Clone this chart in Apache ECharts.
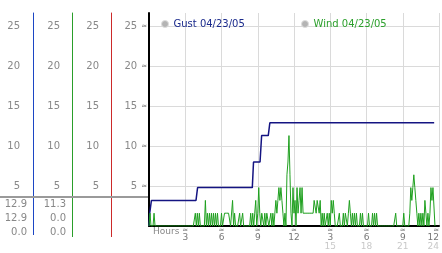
<!DOCTYPE html>
<html><head><meta charset="utf-8">
<script src="https://cdn.jsdelivr.net/npm/echarts@6/dist/echarts.min.js"></script>
<style>html,body{margin:0;padding:0;background:#fff}#c{width:442px;height:253px}</style>
</head><body><div id="c"></div>
<script>
const gustName = 'Gust 04/23/05';
const windName = 'Wind 04/23/05';
// gust: step-like trace, [hour] and [value]
const gustHours  = [0, 0.06, 0.2, 3.89, 4.02, 8.55, 8.65, 9.19, 9.32, 9.87, 10.0, 23.6];
const gustValues = [0, 1.6, 3.2, 3.2, 4.8, 4.8, 8.0, 8.0, 11.3, 11.3, 12.9, 12.9];
// wind: one reading every 5 minutes from 00:00
const windStepMinutes = 5;
const windValues = [
  0,1.6,0,0,0,1.6,0,0,0,0,0,0,
  0,0,0,0,0,0,0,0,0,0,0,0,
  0,0,0,0,0,0,0,0,0,0,0,0,
  0,0,0,0,0,0,0,0,0,0,1.6,0,
  1.6,0,1.6,0,0,0,0,0,3.2,0,1.6,0,
  1.6,0,1.6,0,1.6,0,1.6,0,1.6,0,0,0,
  1.6,0,0,1.6,1.6,1.6,1.6,1.6,1.6,0,0,3.2,
  0,1.6,0,0,0,0,1.6,0,0,1.6,0,0,
  0,0,0,0,0,1.6,0,1.6,0,1.6,3.2,0,
  1.6,4.8,1.6,0,1.6,1.6,0,1.6,0,1.6,1.6,0,
  0,1.6,0,1.6,0,1.6,3.2,1.6,3.2,4.8,3.2,4.8,
  3.2,1.6,0,1.6,0,6.4,8.0,11.3,6.4,1.6,0,4.8,
  1.6,3.2,0,4.8,1.6,3.2,4.8,1.6,4.8,1.6,1.6,1.6,
  1.6,1.6,1.6,1.6,1.6,1.6,1.6,1.6,3.2,3.2,1.6,3.2,
  3.2,1.6,3.2,0,1.6,0,1.6,0,0,1.6,0,1.6,
  0,3.2,1.6,3.2,1.6,0,0,0,0,1.6,0,0,
  0,1.6,0,1.6,1.6,0,1.6,3.2,1.6,0,1.6,0,
  1.6,0,1.6,0,0,0,1.6,0,1.6,0,0,0,
  0,0,1.6,0,0,0,1.6,0,1.6,0,1.6,0,
  0,0,0,0,0,0,0,0,0,0,0,0,
  0,0,0,0,0,1.6,0,0,0,0,0,0,
  0,1.6,0,0,0,0,0,1.6,4.8,3.2,4.8,6.4,
  4.8,3.2,1.6,0,1.6,0,1.6,0,1.6,0,3.2,1.6,
  0,1.6,0,1.6,4.8,3.2,4.8,4.8,0
];
const yTicks = [5, 10, 15, 20, 25];
const xTickHours = [3, 6, 9, 12, 15, 18, 21, 24];
const xTickUpper = ['3', '6', '9', '12', '3', '6', '9', '12'];
const xTickLower = ['', '', '', '', '15', '18', '21', '24'];
const gustStats = ['12.9', '12.9', '0.0'];
const windStats = ['11.3', '0.0', '0.0'];

const FONT = '"DejaVu Sans", Verdana, sans-serif';
const YMAX = 26.625;
const BLUE = '#1c46c4', GREEN = '#2a9e2a', RED = '#cc2a2a';
const gustData = gustHours.map((h, i) => [h, gustValues[i]]);
const windData = windValues.map((v, i) => [i * windStepMinutes / 60, v]);

function sideAxis(offset, color, margin) {
  return {
    type: 'value', position: 'left', offset: offset, min: 0, max: YMAX, interval: 5,
    axisLine: { show: true, onZero: false, lineStyle: { color: color, width: 1 } },
    axisTick: { show: false }, splitLine: { show: false },
    axisLabel: { margin: margin, color: '#888', fontFamily: FONT, fontSize: 10,
      formatter: v => yTicks.includes(v) ? String(v) : '' }
  };
}

const rowY = [204.7, 218.5, 232];
const graphics = [
  { type: 'line', shape: { x1: 0, y1: 197, x2: 148, y2: 197 }, style: { stroke: '#9a9a9a', lineWidth: 2 }, z: 10 },
  { type: 'line', shape: { x1: 33.5, y1: 225, x2: 33.5, y2: 235 }, style: { stroke: BLUE, lineWidth: 1 } },
  { type: 'line', shape: { x1: 72.5, y1: 225, x2: 72.5, y2: 237 }, style: { stroke: GREEN, lineWidth: 1 } },
  { type: 'line', shape: { x1: 111.5, y1: 225, x2: 111.5, y2: 237 }, style: { stroke: RED, lineWidth: 1 } },
  { type: 'text', style: { text: 'Hours', x: 153, y: 232, fill: '#888', font: '9px ' + FONT,
      textAlign: 'left', align: 'left', textVerticalAlign: 'middle', verticalAlign: 'middle' } }
];
rowY.forEach((y, i) => {
  graphics.push({ type: 'text', style: { text: gustStats[i], x: 27, y: y, fill: '#888', font: '10px ' + FONT,
    textAlign: 'right', align: 'right', textVerticalAlign: 'middle', verticalAlign: 'middle' } });
  graphics.push({ type: 'text', style: { text: windStats[i], x: 66, y: y, fill: '#888', font: '10px ' + FONT,
    textAlign: 'right', align: 'right', textVerticalAlign: 'middle', verticalAlign: 'middle' } });
});

const chart = echarts.init(document.getElementById('c'), null, { renderer: 'canvas' });
chart.setOption({
  animation: false,
  backgroundColor: '#fff',
  textStyle: { fontFamily: FONT },
  legend: [
    { left: 156, top: 14, icon: 'circle', itemWidth: 7, itemHeight: 7,
      textStyle: { fontFamily: FONT, fontSize: 10, color: '#1a2a8c' },
      data: [{ name: gustName, itemStyle: { color: '#b4b4b4', borderColor: '#dedede', borderWidth: 1 } }] },
    { left: 296, top: 14, icon: 'circle', itemWidth: 7, itemHeight: 7,
      textStyle: { fontFamily: FONT, fontSize: 10, color: '#2ca02c' },
      data: [{ name: windName, itemStyle: { color: '#b4b4b4', borderColor: '#dedede', borderWidth: 1 } }] }
  ],
  grid: { left: 149, right: 3, top: 13, bottom: 27, containLabel: false },
  xAxis: {
    type: 'value', min: 0, max: 24, interval: 3,
    axisLine: { show: true, onZero: false, lineStyle: { color: '#000', width: 2 } },
    axisTick: { show: false },
    splitLine: { show: true, lineStyle: { color: '#dadada', width: 1 } },
    axisLabel: {
      margin: 1, alignMaxLabel: 'right', fontFamily: FONT,
      formatter: v => {
        const i = xTickHours.indexOf(v);
        if (i < 0) return '';
        return '{m|≈}\n{u|' + xTickUpper[i] + '}\n{l|' + (xTickLower[i] || ' ') + '}';
      },
      rich: {
        m: { fontSize: 7, lineHeight: 6, color: '#777', fontFamily: FONT },
        u: { fontSize: 9, lineHeight: 9, color: '#777', fontFamily: FONT },
        l: { fontSize: 9, lineHeight: 10, color: '#c8c8c8', fontFamily: FONT }
      }
    }
  },
  yAxis: [
    {
      type: 'value', position: 'left', min: 0, max: YMAX, interval: 5,
      axisLine: { show: true, onZero: false, lineStyle: { color: '#000', width: 2 } },
      axisTick: { show: false },
      splitLine: { show: true, showMinLine: false, showMaxLine: false,
        lineStyle: { color: ['#dadada', '#dadada', '#dadada', '#dadada', '#dadada', '#dadada', 'rgba(0,0,0,0)'], width: 1 } },
      axisLabel: { margin: 2, fontFamily: FONT,
        formatter: v => yTicks.includes(v) ? '{n|' + v + '}{m|≈}' : '',
        rich: { n: { fontSize: 10, color: '#888', fontFamily: FONT },
                m: { fontSize: 7, color: '#777', padding: [0, 0, 0, 4], fontFamily: FONT } } }
    },
    sideAxis(38, RED, 12),
    sideAxis(77, GREEN, 12),
    sideAxis(116, BLUE, 13)
  ],
  series: [
    { name: gustName, type: 'line', data: gustData, yAxisIndex: 0, showSymbol: false, symbol: 'none',
      lineStyle: { color: '#141482', width: 1.5 }, itemStyle: { color: '#141482' }, z: 3 },
    { name: windName, type: 'line', data: windData, yAxisIndex: 0, showSymbol: false, symbol: 'none',
      lineStyle: { color: '#1fa01f', width: 1 }, itemStyle: { color: '#1fa01f' }, z: 4 }
  ],
  graphic: graphics
});
</script></body></html>
